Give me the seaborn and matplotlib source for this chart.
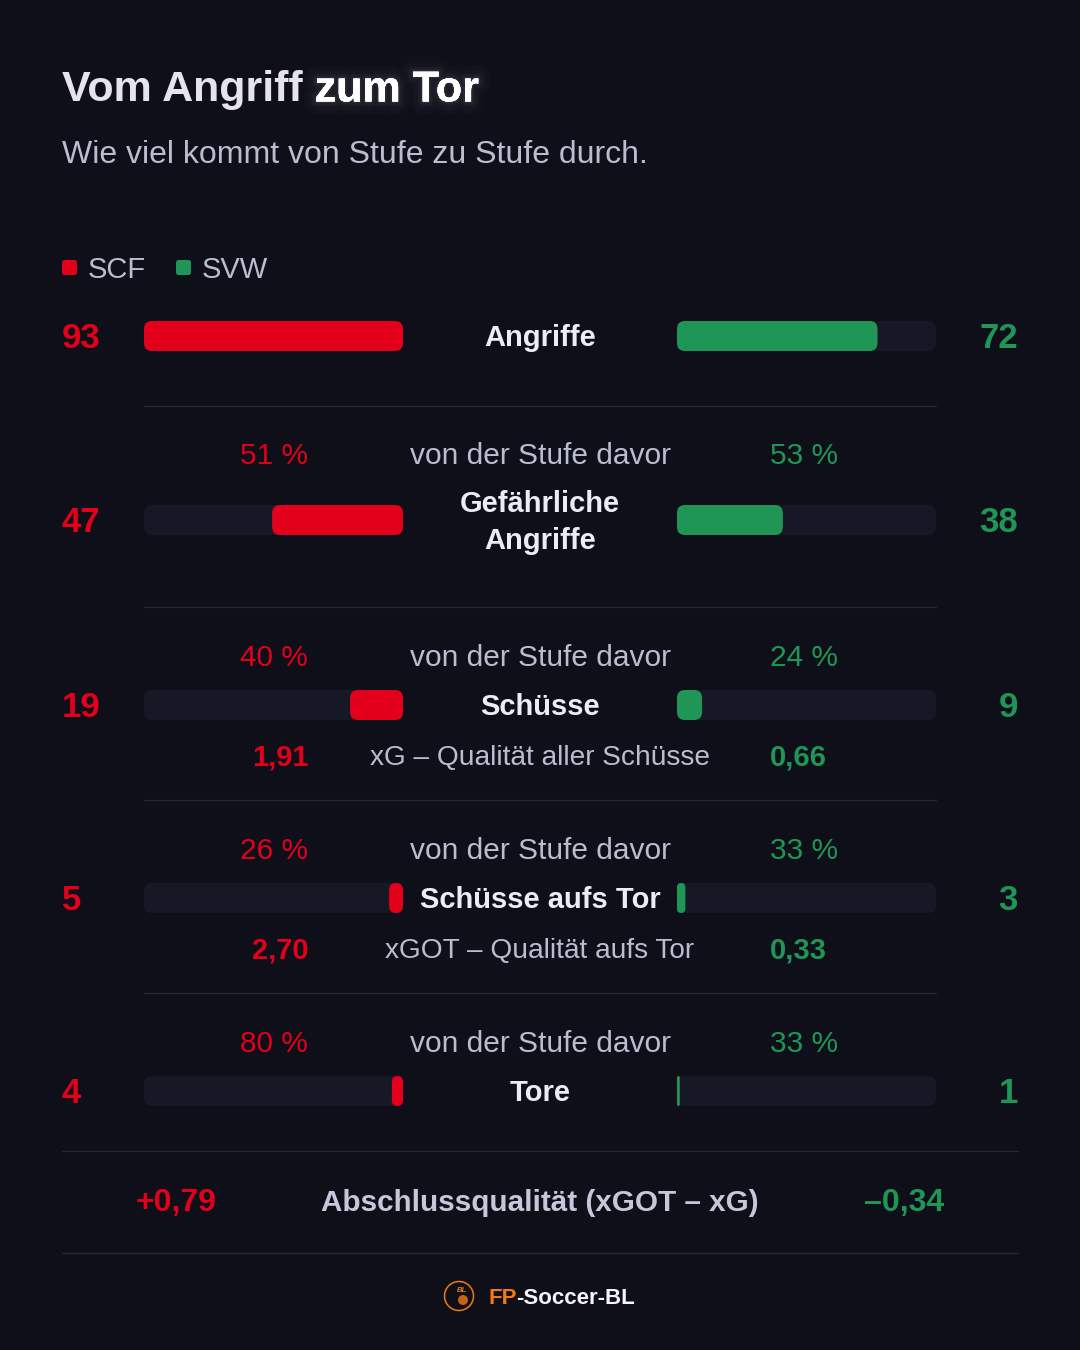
import matplotlib
matplotlib.use('Agg')
import matplotlib.pyplot as plt
import matplotlib.patheffects as pe
from matplotlib.patches import FancyBboxPatch, Circle
import seaborn as sns
import pandas as pd

# ---------------- data ----------------
teams = ['SCF', 'SVW']
stages = ['Angriffe', 'Gefährliche\nAngriffe', 'Schüsse', 'Schüsse aufs Tor', 'Tore']
scf_values = [93, 47, 19, 5, 4]
svw_values = [72, 38, 9, 3, 1]
scf_pct = ['', '51 %', '40 %', '26 %', '80 %']
svw_pct = ['', '53 %', '24 %', '33 %', '33 %']
pct_label = 'von der Stufe davor'
quality_labels = ['xG – Qualität aller Schüsse', 'xGOT – Qualität aufs Tor']
scf_quality = ['1,91', '2,70']
svw_quality = ['0,66', '0,33']
diff_label = 'Abschlussqualität (xGOT – xG)'
scf_diff = '+0,79'
svw_diff = '–0,34'
title_a = 'Vom Angriff '
title_b = 'zum Tor'
subtitle = 'Wie viel kommt von Stufe zu Stufe durch.'
brand_a = 'FP'
brand_b = '-Soccer-BL'

# ---------------- layout / style ----------------
W, H = 1080, 1350
BG = '#0e0f19'
TRACK = '#161925'
SEP = '#262835'
RED = '#e2001a'
GREEN = '#1f9656'
WHITE = '#ececf3'
GRAY = '#b9bdd0'
ORANGE = '#f07a12'
row_y = [336, 520, 705, 898, 1091]
pct_y = [None, 453, 655, 848, 1041]
quality_rows = [2, 3]
quality_y = [755, 948]
sep_y = [406, 607, 800, 993]
L0, L1 = 144, 403
R0, R1 = 677, 936
BAR_H = 30
PX = 100 / 72

sns.set_theme(style='dark')
plt.rcParams['font.family'] = ['Liberation Sans', 'DejaVu Sans']

fig = plt.figure(figsize=(W / 100, H / 100), dpi=100, facecolor=BG)
ax = fig.add_axes([0, 0, 1, 1], zorder=1)
ax.set_xlim(0, W)
ax.set_ylim(H, 0)
ax.set_facecolor(BG)
ax.axis('off')
ax.patch.set_visible(True)


def put(x, yc, s, size, color, weight='normal', ha='left', **kw):
    return ax.text(x, yc + 0.358 * size * PX, s, fontsize=size, color=color,
                   fontweight=weight, ha=ha, va='baseline', zorder=5, **kw)


# ---------------- bars through seaborn ----------------
vmax = max(scf_values + svw_values)
df = pd.DataFrame({'stage': stages, 'SCF': scf_values, 'SVW': svw_values, 'row': row_y})

ax_l = fig.add_axes([L0 / W, 0, (L1 - L0) / W, 1], zorder=0)
ax_r = fig.add_axes([R0 / W, 0, (R1 - R0) / W, 1], zorder=0)
sns.barplot(data=df, x='SCF', y='row', orient='h', native_scale=True,
            color=RED, ax=ax_l, width=0.2)
sns.barplot(data=df, x='SVW', y='row', orient='h', native_scale=True,
            color=GREEN, ax=ax_r, width=0.2)
ax_l.set_xlim(vmax, 0)
ax_r.set_xlim(0, vmax)
for a in (ax_l, ax_r):
    a.set_ylim(H, 0)
    a.axis('off')

inv = ax.transData.inverted()


def rounded(x, y, w, h, color, z, rmax=8):
    r = max(min(rmax, w / 2, h / 2), 0.5)
    ax.add_patch(FancyBboxPatch((x, y), w, h,
                                boxstyle=f'round,pad=0,rounding_size={r}',
                                fc=color, ec='none', zorder=z))


def round_bars(bar_ax, color):
    for p in list(bar_ax.patches):
        bb = p.get_window_extent()
        (x0, y0), (x1, y1) = inv.transform([[bb.x0, bb.y0], [bb.x1, bb.y1]])
        xa, xb = sorted([x0, x1])
        yc = (y0 + y1) / 2
        p.remove()
        if xb - xa <= 0:
            continue
        rounded(xa, yc - BAR_H / 2, xb - xa, BAR_H, color, 3)


# tracks
for yc in row_y:
    rounded(L0, yc - BAR_H / 2, L1 - L0, BAR_H, TRACK, 2)
    rounded(R0, yc - BAR_H / 2, R1 - R0, BAR_H, TRACK, 2)

round_bars(ax_l, RED)
round_bars(ax_r, GREEN)

# ---------------- title ----------------
renderer = fig.canvas.get_renderer()
t1 = put(62, 86, title_a, 31, '#e4e4ea', weight='bold')
bb = t1.get_window_extent(renderer)
x_end = inv.transform([[bb.x1, bb.y0]])[0][0]
put(x_end, 86, title_b, 31, '#ffffff', weight='bold',
    path_effects=[pe.withStroke(linewidth=18, foreground='white', alpha=0.015),
                  pe.withStroke(linewidth=12, foreground='white', alpha=0.02),
                  pe.withStroke(linewidth=7, foreground='white', alpha=0.03),
                  pe.withStroke(linewidth=3, foreground='white', alpha=0.05),
                  pe.Normal()])
put(62, 152, subtitle, 23, GRAY)

# ---------------- legend ----------------
rounded(62, 260, 15, 15, RED, 4, rmax=2.5)
put(88, 267.5, teams[0], 21, GRAY)
rounded(176, 260, 15, 15, GREEN, 4, rmax=2.5)
put(202, 267.5, teams[1], 21, GRAY)

# ---------------- rows ----------------
for i, stage in enumerate(stages):
    yc = row_y[i]
    put(62, yc, str(scf_values[i]), 25, RED, weight='bold')
    put(1018, yc, str(svw_values[i]), 25, GREEN, weight='bold', ha='right')
    lines = stage.split('\n')
    n = len(lines)
    for k, line in enumerate(lines):
        put(540, yc + (k - (n - 1) / 2) * 37, line, 21, WHITE, weight='bold', ha='center')
    if pct_y[i] is not None:
        put(308, pct_y[i], scf_pct[i], 21.5, RED, ha='right')
        put(540, pct_y[i], pct_label, 21.5, GRAY, ha='center')
        put(770, pct_y[i], svw_pct[i], 21.5, GREEN)

for j, ri in enumerate(quality_rows):
    yq = quality_y[j]
    put(309, yq, scf_quality[j], 21, RED, weight='bold', ha='right')
    put(540, yq, quality_labels[j], 20.2, GRAY, ha='center')
    put(770, yq, svw_quality[j], 21, GREEN, weight='bold')

for ys in sep_y:
    ax.plot([L0, R1], [ys, ys], color=SEP, lw=0.9, zorder=2)

# ---------------- bottom summary ----------------
ax.plot([62, 1018], [1151, 1151], color=SEP, lw=0.9, zorder=2)
ax.plot([62, 1018], [1253, 1253], color=SEP, lw=0.9, zorder=2)
put(176, 1200, scf_diff, 23, RED, weight='bold', ha='center')
put(540, 1200, diff_label, 21.3, '#c4c8da', weight='bold', ha='center')
put(904, 1200, svw_diff, 23, GREEN, weight='bold', ha='center')

# ---------------- footer ----------------
ax.add_patch(Circle((459, 1296), 14.5, fc='none', ec=ORANGE, lw=1.1, zorder=4))
ax.text(462, 1290, 'BL', fontsize=5.5, color=ORANGE, fontweight='bold',
        style='italic', ha='center', va='center', zorder=5)
ax.add_patch(Circle((463, 1300), 5, fc=ORANGE, ec='none', alpha=0.8, zorder=4))
f1 = put(488, 1296, brand_a, 16, ORANGE, weight='bold')
bb = f1.get_window_extent(renderer)
x_end = inv.transform([[bb.x1, bb.y0]])[0][0]
put(x_end, 1296, brand_b, 16, '#f4f4f8', weight='bold')

fig.savefig('out.png', dpi=100, facecolor=BG)
